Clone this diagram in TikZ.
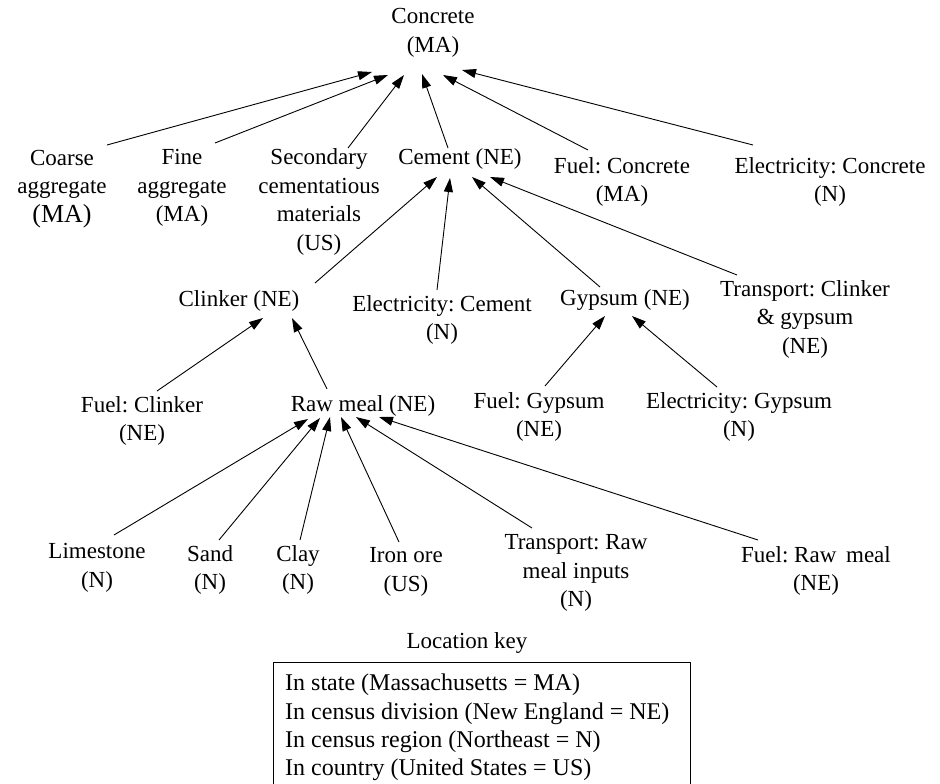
\documentclass[tikz,border=0pt]{standalone}
\usepackage{fontspec}
\setmainfont{Liberation Serif}
\usetikzlibrary{arrows.meta}
\frenchspacing

\begin{document}
\begin{tikzpicture}[x=1pt, y=-1pt,
  lbl/.style={align=center, inner sep=0pt, font=\fontsize{23}{28.5}\selectfont},
  link/.style={line width=0.9pt, -{Triangle[length=14pt,width=9pt]}},
  keyline/.style={align=left, inner sep=0pt, font=\fontsize{24}{28.3}\selectfont}]

% ---------- nodes ----------
\node[lbl] (con)     at (433,33)  {Concrete\\(MA)};
\node[lbl] (coarse)  at (62,189)  {Coarse\\aggregate\\{\fontsize{26}{28.5}\selectfont (MA)}};
\node[lbl] (fine)    at (182,188) {Fine\\aggregate\\(MA)};
\node[lbl] (sec)     at (319,202) {Secondary\\cementatious\\materials\\(US)};
\node[lbl] (cem)     at (460,159) {Cement (NE)};
\node[lbl] (fcon)    at (622,182) {Fuel: Concrete\\(MA)};
\node[lbl] (econ)    at (830,182) {Electricity: Concrete\\(N)};

\node[lbl] (clk)     at (239,301) {Clinker (NE)};
\node[lbl] (ecem)    at (442,320) {Electricity: Cement\\(N)};
\node[lbl] (gyp)     at (625,300) {Gypsum (NE)};
\node[lbl] (tcg)     at (805,319) {Transport: Clinker\\\& gypsum\\(NE)};

\node[lbl] (fclk)    at (142,421) {Fuel: Clinker\\(NE)};
\node[lbl] (raw)     at (363,406) {Raw meal (NE)};
\node[lbl] (fgyp)    at (539,417) {Fuel: Gypsum\\(NE)};
\node[lbl] (egyp)    at (739,417) {Electricity: Gypsum\\(N)};

\node[lbl] (lime)    at (97,568)  {Limestone\\(N)};
\node[lbl] (sand)    at (210,570) {Sand\\(N)};
\node[lbl] (clay)    at (298,570) {Clay\\(N)};
\node[lbl] (iron)    at (406,572) {Iron ore\\(US)};
\node[lbl] (traw)    at (576,573) {Transport: Raw\\meal inputs\\(N)};
\node[lbl] (fraw)    at (816,571) {Fuel: Raw\hspace{4pt} meal\\(NE)};

% ---------- location key ----------
\node[lbl] (keyhead) at (467,643) {Location key};
\begin{scope}
  \clip (0,0) rectangle (940,784);
  \node[draw, line width=0.9pt, minimum width=417pt, minimum height=150pt,
        anchor=north west, inner sep=0pt] (keybox) at (273,662) {};
\end{scope}
\node[keyline, anchor=north west] (keytext) at ([shift={(12,12)}]keybox.north west)
  {In state (Massachusetts = MA)\\
   In census division (New England = NE)\\
   In census region (Northeast = N)\\
   In country (United States = US)};

% ---------- connectors into Concrete ----------
\draw[link] ([shift={(45,-44)}]coarse.center) -- ([shift={(-61,39)}]con.center);
\draw[link] ([shift={(33,-45)}]fine.center)   -- ([shift={(-45,42)}]con.center);
\draw[link] ([shift={(29,-54)}]sec.center)    -- ([shift={(-29,42)}]con.center);
\draw[link] ([shift={(-12,-11)}]cem.center)   -- ([shift={(-11,41)}]con.center);
\draw[link] ([shift={(-34,-32)}]fcon.center)  -- ([shift={(10,42)}]con.center);
\draw[link] ([shift={(-77,-37)}]econ.center)  -- ([shift={(29,37)}]con.center);

% ---------- connectors into Cement ----------
\draw[link] ([shift={(76,-18)}]clk.center)    -- ([shift={(-23,18)}]cem.center);
\draw[link] ([shift={(-5,-30)}]ecem.center)   -- ([shift={(-10,19)}]cem.center);
\draw[link] ([shift={(-25,-13)}]gyp.center)   -- ([shift={(12,18)}]cem.center);
\draw[link] ([shift={(-68,-44)}]tcg.center)   -- ([shift={(30,18)}]cem.center);

% ---------- connectors into Clinker ----------
\draw[link] ([shift={(15,-30)}]fclk.center)   -- ([shift={(24,17)}]clk.center);
\draw[link] ([shift={(-36,-17)}]raw.center)   -- ([shift={(53,17)}]clk.center);

% ---------- connectors into Gypsum ----------
\draw[link] ([shift={(6,-31)}]fgyp.center)    -- ([shift={(-20,16)}]gyp.center);
\draw[link] ([shift={(-22,-30)}]egyp.center)  -- ([shift={(7,16)}]gyp.center);

% ---------- connectors into Raw meal ----------
\draw[link] ([shift={(17,-33)}]lime.center)   -- ([shift={(-55,13)}]raw.center);
\draw[link] ([shift={(9,-30)}]sand.center)    -- ([shift={(-43,12)}]raw.center);
\draw[link] ([shift={(2,-30)}]clay.center)    -- ([shift={(-33,11)}]raw.center);
\draw[link] ([shift={(-7,-30)}]iron.center)   -- ([shift={(-22,11)}]raw.center);
\draw[link] ([shift={(-44,-45)}]traw.center)  -- ([shift={(-7,11)}]raw.center);
\draw[link] ([shift={(-58,-31)}]fraw.center)  -- ([shift={(16,11)}]raw.center);

\pgfresetboundingbox
\useasboundingbox (0,0) rectangle (940,784);
\end{tikzpicture}
\end{document}
